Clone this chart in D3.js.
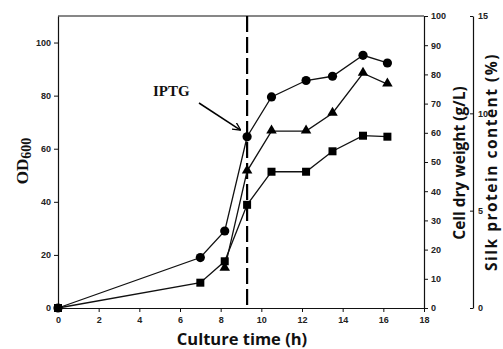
<!DOCTYPE html>
<html>
<head>
<meta charset="utf-8">
<script src="https://cdn.jsdelivr.net/npm/d3@7.9.0/dist/d3.min.js"></script>
<style>
  body { margin: 0; background: #fff; }
  svg { display: block; }
  .tick text { font-family: "Liberation Sans", Arial, sans-serif; font-size: 9px; font-weight: bold; fill: #222; }
  .domain, .tick line { stroke: #111; }
  .title { font-family: "Open Sans", sans-serif; font-weight: bold; fill: #111; }
</style>
</head>
<body>
<svg id="chart" width="503" height="349"></svg>
<script>
// culture time (h)
let times = [0, 7, 8.2, 9.3, 10.5, 12.2, 13.5, 15, 16.2];
// OD600 (circles)
let od600 = [0, 19, 29, 64.5, 79.5, 85.7, 87.3, 95.2, 92.3];
// cell dry weight g/L (triangles), first measured at 8.2 h
let dwTimes = [8.2, 9.3, 10.5, 12.2, 13.5, 15, 16.2];
let dryWeight = [13.6, 46.9, 60.6, 60.6, 66.7, 80.4, 76.7];
// silk protein content % (squares)
let silk = [0, 1.3, 2.4, 5.3, 7.0, 7.0, 8.05, 8.85, 8.8];

let xTicks = d3.range(0, 19, 2);
let odTicks = [0, 20, 40, 60, 80, 100];
let dwTicks = d3.range(0, 101, 10);
let silkTicks = [0, 5, 10, 15];
let iptgTime = 9.3;

const svg = d3.select('#chart');
const mLeft = 58, mRight = 424, mTop = 16, mBottom = 308;

let x = d3.scaleLinear().domain([0, 18]).range([mLeft, mRight]);
let yOD = d3.scaleLinear().domain([0, 110]).range([mBottom, mTop]);
let yDW = d3.scaleLinear().domain([0, 100]).range([mBottom, mTop]);
let ySilk = d3.scaleLinear().domain([0, 15]).range([mBottom, mTop]);

// frame top line
svg.append('line')
  .attr('x1', mLeft).attr('x2', mRight)
  .attr('y1', mTop).attr('y2', mTop)
  .attr('stroke', '#111')
  .attr('stroke-width', 1.2);

svg.append('g')
  .attr('transform', `translate(0,${mBottom})`)
  .call(d3.axisBottom(x).tickValues(xTicks).tickSize(4).tickSizeOuter(0).tickPadding(5));

svg.append('g')
  .attr('transform', `translate(${mLeft},0)`)
  .call(d3.axisLeft(yOD).tickValues(odTicks).tickSize(4).tickSizeOuter(0).tickPadding(3));

svg.append('g')
  .attr('transform', `translate(${mRight},0)`)
  .call(d3.axisRight(yDW).tickValues(dwTicks).tickSize(4).tickSizeOuter(0).tickPadding(3));

svg.append('g')
  .attr('transform', `translate(473,0)`)
  .call(d3.axisRight(ySilk).tickValues(silkTicks).tickSize(-3).tickSizeOuter(0).tickPadding(5));

svg.selectAll('.domain').attr('stroke-width', 1.2);

// IPTG dashed line
svg.append('line')
  .attr('x1', x(iptgTime)).attr('x2', x(iptgTime))
  .attr('y1', mTop).attr('y2', mBottom)
  .attr('stroke', '#000')
  .attr('stroke-width', 2.2)
  .attr('stroke-dasharray', '16,5');

let line = d3.line().x(d => x(d[0])).y(d => d[1]);

let odPts = times.map((t, i) => [t, yOD(od600[i])]);
let dwPts = dwTimes.map((t, i) => [t, yDW(dryWeight[i])]);
let silkPts = times.map((t, i) => [t, ySilk(silk[i])]);

[odPts, dwPts, silkPts].forEach(pts => {
  svg.append('path')
    .attr('d', line(pts))
    .attr('fill', 'none')
    .attr('stroke', '#111')
    .attr('stroke-width', 1.3);
});

svg.selectAll('.sq').data(silkPts).join('rect')
  .attr('x', d => x(d[0]) - 4).attr('y', d => d[1] - 4)
  .attr('width', 8).attr('height', 8)
  .attr('fill', '#000');

let tri = d3.symbol().type(d3.symbolTriangle).size(48);
svg.selectAll('.tri').data(dwPts).join('path')
  .attr('d', tri)
  .attr('transform', d => `translate(${x(d[0])},${d[1] - 0.5})`)
  .attr('fill', '#000');

svg.selectAll('.circ').data(odPts).join('circle')
  .attr('cx', d => x(d[0])).attr('cy', d => d[1])
  .attr('r', 4.6)
  .attr('fill', '#000');

// IPTG label and arrow
svg.append('defs').append('marker')
  .attr('id', 'arrow')
  .attr('viewBox', '0 0 10 10')
  .attr('refX', 9).attr('refY', 5)
  .attr('markerWidth', 8).attr('markerHeight', 8)
  .attr('markerUnits', 'userSpaceOnUse')
  .attr('orient', 'auto')
  .append('path')
  .attr('d', 'M0,0 L10,5 L0,10')
  .attr('fill', 'none')
  .attr('stroke', '#000')
  .attr('stroke-width', 1.6);

svg.append('line')
  .attr('x1', 199).attr('y1', 103)
  .attr('x2', x(iptgTime) - 7).attr('y2', yOD(od600[3]) - 7)
  .attr('stroke', '#000')
  .attr('stroke-width', 1.5)
  .attr('marker-end', 'url(#arrow)');

svg.append('text')
  .attr('x', 153).attr('y', 96)
  .attr('font-family', '"Liberation Serif", "Times New Roman", serif')
  .attr('font-weight', 'bold')
  .attr('font-size', 15)
  .attr('fill', '#111')
  .text('IPTG');

// axis titles
svg.append('text')
  .attr('class', 'title')
  .attr('x', 242).attr('y', 345)
  .attr('text-anchor', 'middle')
  .attr('font-size', 16.5)
  .text('Culture time (h)');

let odTitle = svg.append('text')
  .attr('transform', 'translate(28,161) rotate(-90)')
  .attr('text-anchor', 'middle')
  .attr('font-family', '"Liberation Serif", "Times New Roman", serif')
  .attr('font-weight', 'bold')
  .attr('font-size', 17)
  .attr('fill', '#111');
odTitle.append('tspan').text('OD');
odTitle.append('tspan').attr('font-size', 14).attr('dy', 3).text('600');

svg.append('text')
  .attr('class', 'title')
  .attr('transform', 'translate(465,163) rotate(-90)')
  .attr('text-anchor', 'middle')
  .attr('font-size', 15.5)
  .text('Cell dry weight (g/L)');

svg.append('text')
  .attr('class', 'title')
  .attr('transform', 'translate(497,162) rotate(-90)')
  .attr('text-anchor', 'middle')
  .attr('font-size', 15.5)
  .attr('letter-spacing', 1.5)
  .text('Silk protein content (%)');
</script>
</body>
</html>
